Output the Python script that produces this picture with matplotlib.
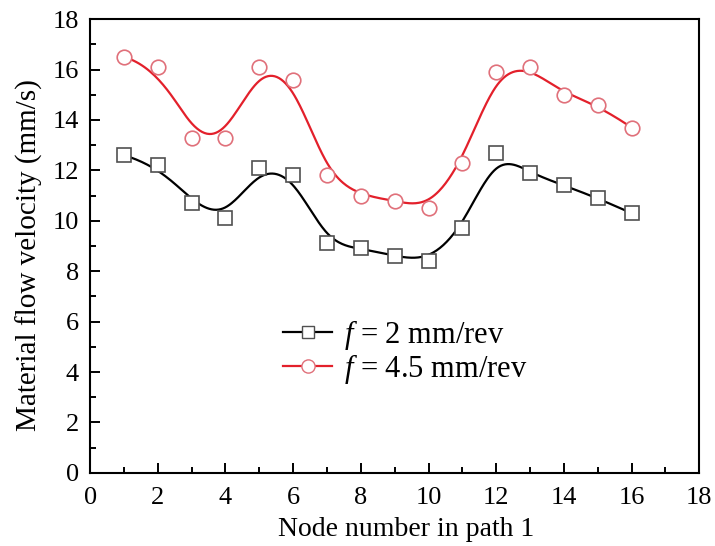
import numpy as np
import matplotlib.pyplot as plt
from matplotlib.ticker import MultipleLocator

plt.rcParams['font.family'] = 'Liberation Serif'
plt.rcParams['mathtext.fontset'] = 'custom'
plt.rcParams['mathtext.it'] = 'Liberation Serif:italic'
plt.rcParams['mathtext.rm'] = 'Liberation Serif'

# node numbers along path 1
nodes = np.arange(1, 17)
# material flow velocity (mm/s) for the two feed rates
v_f2 = [12.6, 12.2, 10.7, 10.1, 12.1, 11.8, 9.1, 8.9, 8.6, 8.4, 9.7, 12.7, 11.9, 11.4, 10.9, 10.3]
v_f45 = [16.5, 16.1, 13.3, 13.3, 16.1, 15.6, 11.8, 11.0, 10.8, 10.5, 12.3, 15.9, 16.1, 15.0, 14.6, 13.7]


def bspline(px, py, deg=3, num=400):
    # clamped cubic B-spline using the data points as control points
    px = np.asarray(px, float)
    py = np.asarray(py, float)
    n = len(px)
    inner = np.arange(1, n - deg)
    knots = np.concatenate([np.zeros(deg + 1), inner, np.full(deg + 1, n - deg)])
    t = np.linspace(0, n - deg, num)
    t[-1] -= 1e-9

    def basis(i, k, t):
        if k == 0:
            return np.where((knots[i] <= t) & (t < knots[i + 1]), 1.0, 0.0)
        a = 0.0
        b = 0.0
        d1 = knots[i + k] - knots[i]
        d2 = knots[i + k + 1] - knots[i + 1]
        if d1 > 0:
            a = (t - knots[i]) / d1 * basis(i, k - 1, t)
        if d2 > 0:
            b = (knots[i + k + 1] - t) / d2 * basis(i + 1, k - 1, t)
        return a + b

    B = np.array([basis(i, deg, t) for i in range(n)])
    return px @ B, py @ B


black_edge = '#505050'
red_line = '#e3202b'
red_edge = '#e0707a'

fig = plt.figure(figsize=(7.15, 5.46), dpi=100)
ax = fig.add_axes([0.126, 0.134, 0.852, 0.831])

sx, sy = bspline(nodes, v_f2)
ax.plot(sx, sy, color='black', lw=1.6, zorder=2)
ax.plot(nodes, v_f2, ls='none', marker='s', ms=9.5, mfc='white', mec=black_edge, mew=1.2, zorder=3)

sx, sy = bspline(nodes, v_f45)
ax.plot(sx, sy, color=red_line, lw=1.6, zorder=2)
ax.plot(nodes, v_f45, ls='none', marker='o', ms=10.5, mfc='white', mec=red_edge, mew=1.2, zorder=3)

# legend handles: line with marker
ax.plot([], [], color='black', lw=1.6, marker='s', ms=9, mfc='white', mec=black_edge,
        label=r'$f$ = 2 mm/rev')
ax.plot([], [], color=red_line, lw=1.6, marker='o', ms=9.5, mfc='white', mec=red_edge,
        label=r'$f$ = 4.5 mm/rev')
ax.legend(loc='center left', bbox_to_anchor=(0.317, 0.2665), frameon=False, fontsize=22,
          borderpad=0, borderaxespad=0, handlelength=1.6, handletextpad=0.4,
          labelspacing=0.0)

ax.set_xlim(0, 18)
ax.set_ylim(0, 18)
ax.xaxis.set_major_locator(MultipleLocator(2))
ax.xaxis.set_minor_locator(MultipleLocator(1))
ax.yaxis.set_major_locator(MultipleLocator(2))
ax.yaxis.set_minor_locator(MultipleLocator(1))
ax.tick_params(which='both', direction='in', top=False, right=False, labelsize=19)
ax.tick_params(which='major', length=7, width=1.4)
ax.tick_params(which='minor', length=4, width=1.4)
ax.tick_params(axis='x', pad=10)
ax.tick_params(axis='y', pad=8)
for s in ax.spines.values():
    s.set_linewidth(1.5)

ax.set_xlabel('Node number in path 1', fontsize=20)
ax.set_ylabel('Material flow velocity (mm/s)', fontsize=21)
ax.xaxis.set_label_coords(0.519, -0.098)
ax.yaxis.set_label_coords(-0.077, 0.48)

fig.savefig('out.png', dpi=100)
